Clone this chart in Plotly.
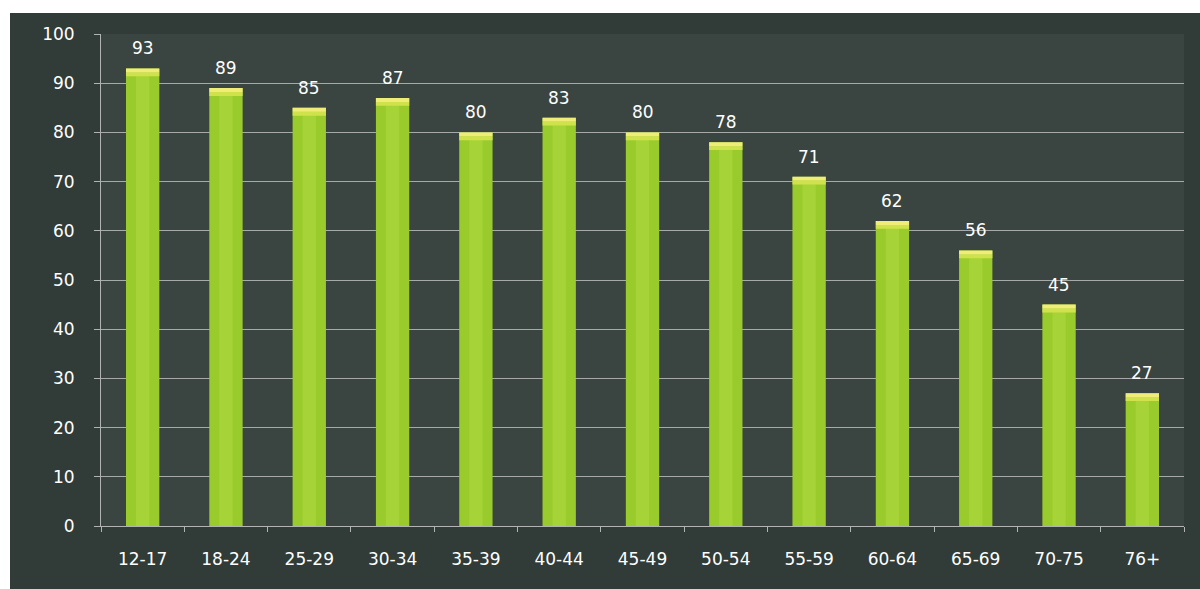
import plotly.graph_objects as go

categories = ["12-17", "18-24", "25-29", "30-34", "35-39", "40-44", "45-49",
              "50-54", "55-59", "60-64", "65-69", "70-75", "76+"]
values = [93, 89, 85, 87, 80, 83, 80, 78, 71, 62, 56, 45, 27]
y_ticks = [0, 10, 20, 30, 40, 50, 60, 70, 80, 90, 100]

W, H = 1200, 589
ml, mr, mt, mb = 101, 16, 34, 63
pw = W - ml - mr
ph = H - mt - mb

def px_x(p):
    return (p - ml) / pw

def px_y(p):
    return (H - mb - p) / ph

fig = go.Figure()
fig.add_trace(go.Bar(
    x=categories, y=values, marker=dict(color="#9acb2c", line=dict(width=0)),
    hoverinfo="skip", width=0.4,
))
fig.add_trace(go.Bar(
    x=categories, y=[v - 1.5 for v in values],
    marker=dict(color="#b0da40", line=dict(width=0)), width=0.16,
    hoverinfo="skip", opacity=0.55,
))
fig.add_trace(go.Bar(
    x=categories, y=[0.8] * len(values), base=[v - 1.6 for v in values],
    marker=dict(color="#cfe24c", line=dict(width=0)), width=0.4,
    hoverinfo="skip",
))
fig.add_trace(go.Bar(
    x=categories, y=[0.8] * len(values), base=[v - 0.8 for v in values],
    marker=dict(color="#f0ec78", line=dict(width=0)), width=0.4,
    hoverinfo="skip",
))

annotations = [
    dict(x=c, y=v, text=str(v), showarrow=False, yanchor="bottom",
         yshift=8, font=dict(color="white", size=17, family="DejaVu Sans"))
    for c, v in zip(categories, values)
]

shapes = [
    dict(type="rect", xref="paper", yref="paper", layer="below",
         x0=px_x(0), x1=px_x(10), y0=px_y(H), y1=px_y(0),
         fillcolor="white", line=dict(width=0)),
    dict(type="rect", xref="paper", yref="paper", layer="below",
         x0=px_x(0), x1=px_x(W), y0=px_y(13), y1=px_y(0),
         fillcolor="white", line=dict(width=0)),
]

fig.update_layout(
    width=W, height=H, barmode="overlay", showlegend=False,
    margin=dict(l=ml, r=mr, t=mt, b=mb),
    paper_bgcolor="#313b38", plot_bgcolor="#3a4441",
    shapes=shapes, annotations=annotations,
    font=dict(family="DejaVu Sans", color="white", size=17),
    xaxis=dict(showgrid=False, tickson="boundaries", ticks="outside",
               ticklen=5, tickcolor="#b0b4b2", showline=True,
               linecolor="#b0b4b2", linewidth=1,
               ticklabelstandoff=18, tickfont=dict(size=17, color="white")),
    yaxis=dict(range=[0, 100], tickvals=y_ticks, showgrid=True,
               gridcolor="#a6aaa8", gridwidth=1, showline=True,
               linecolor="#b0b4b2", linewidth=1, zeroline=False,
               ticks="outside", ticklen=6, tickcolor="#b0b4b2",
               ticklabelstandoff=16, tickfont=dict(size=17, color="white")),
)

fig.write_html("out.html")
